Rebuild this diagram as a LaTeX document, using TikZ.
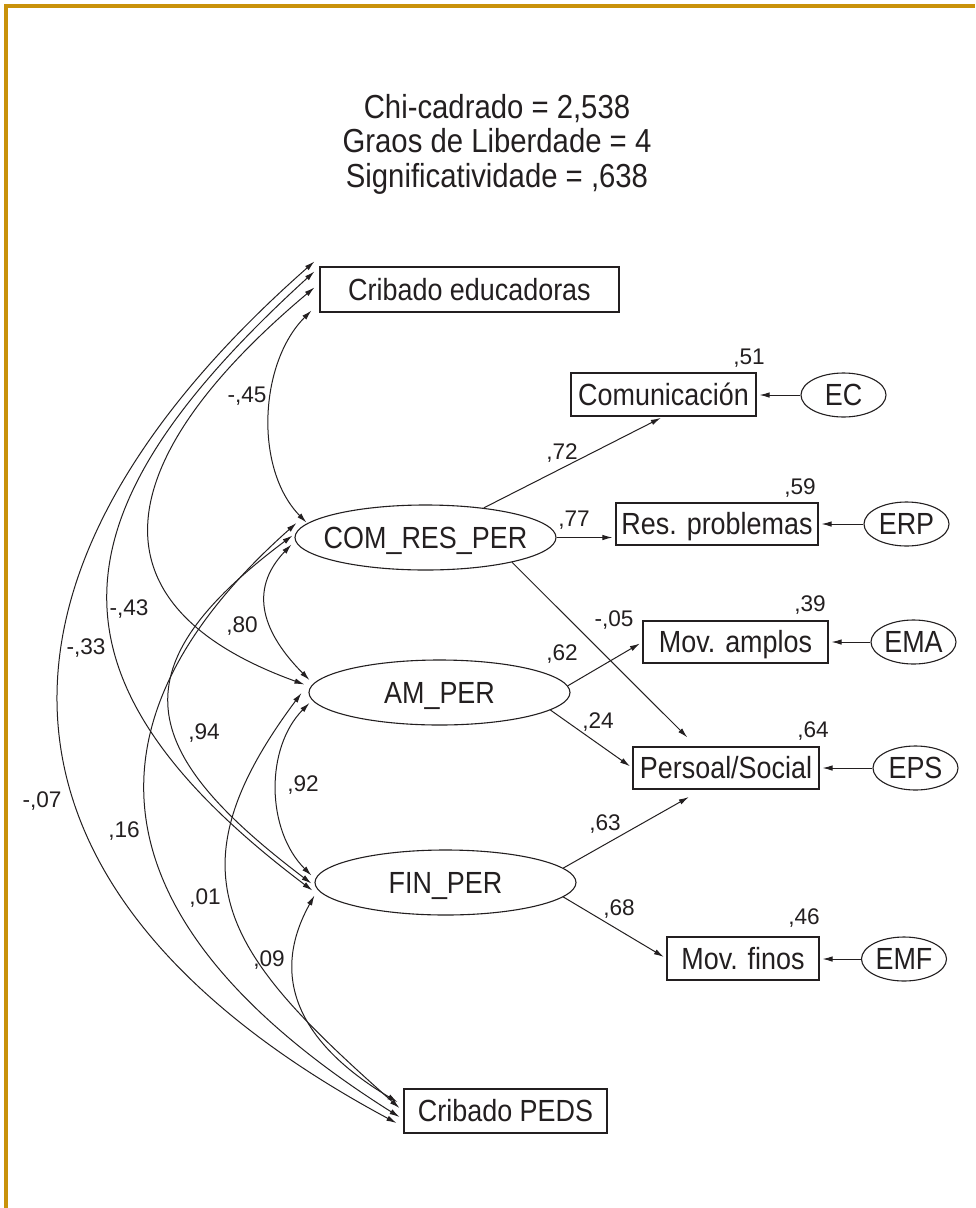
\documentclass[tikz,border=0pt]{standalone}
\usepackage{fontspec}
\setmainfont{Liberation Sans}[FakeStretch=0.88]
\newfontfamily\coeffamily{Liberation Sans}
\usetikzlibrary{arrows.meta,shapes.geometric,calc}
\definecolor{ink}{RGB}{35,31,32}
\definecolor{framegold}{RGB}{201,146,10}
\newcommand\nodetextsize{\fontsize{30.6}{32}\selectfont}
\newcommand\coefsize{\coeffamily\fontsize{22.6}{24}\selectfont}
\newcommand\headsize{\fontsize{33.3}{34.5}\selectfont}
\begin{document}
\begin{tikzpicture}[x=1pt,y=-1pt,
  obs/.style={draw=ink, line width=1.1pt, rectangle, inner sep=0pt, text=ink,
    font=\nodetextsize, text height=21pt, text depth=0pt},
  lat/.style={draw=ink, line width=1.1pt, ellipse, inner sep=0pt, text=ink,
    font=\nodetextsize, text height=21pt, text depth=0pt},
  err/.style={lat, minimum width=85pt, minimum height=44pt},
  coef/.style={text=ink, font=\coefsize, inner sep=0pt, text height=16pt, text depth=0pt},
  path/.style={draw=ink, line width=1pt, -{Latex[length=10pt,width=5.5pt]}, shorten >=3pt},
  cov/.style={draw=ink, line width=1pt, {Latex[length=10pt,width=5.5pt]}-{Latex[length=10pt,width=5.5pt]}}]
\useasboundingbox (0,0) rectangle (975,1208);
\fill[white] (0,0) rectangle (975,1208);
% frame on the top and left edges
\fill[framegold] (4.2,4.2) rectangle (975,7.6);
\fill[framegold] (4.2,4.2) rectangle (7.6,1208);

% fit statistics
\node[anchor=north, align=center, text=ink, font=\headsize, inner sep=0pt] (fit) at (497,94)
  {Chi-cadrado = 2,538\\Graos de Liberdade = 4\\Significatividade = ,638};

% observed variables
\node[obs, minimum width=299pt, minimum height=45pt] (ce) at (469.5,289.5) {Cribado educadoras};
\node[obs, minimum width=185pt, minimum height=43pt] (comm) at (663.5,394.5) {Comunicación};
\node[obs, minimum width=202pt, minimum height=42pt] (rp) at (717,524) {Res. problemas};
\node[obs, minimum width=185pt, minimum height=42pt] (ma) at (735.5,642) {Mov. amplos};
\node[obs, minimum width=186pt, minimum height=42pt] (ps) at (726,768) {Persoal/Social};
\node[obs, minimum width=152pt, minimum height=43pt] (mf) at (743,958.5) {Mov. finos};
\node[obs, minimum width=203pt, minimum height=44pt] (peds) at (505.5,1111) {Cribado PEDS};

% latent factors
\node[lat, minimum width=261pt, minimum height=65pt] (com) at (425.5,537.5) {\makebox[0pt]{COM\_RES\_PER}};
\node[lat, minimum width=261pt, minimum height=65pt] (am) at (439.5,692.5) {\makebox[0pt]{AM\_PER}};
\node[lat, minimum width=261pt, minimum height=65pt] (fin) at (445.5,882.5) {\makebox[0pt]{FIN\_PER}};

% error terms
\node[err] (ec) at (843.5,395) {\makebox[0pt]{EC}};
\node[err] (erp) at (906.5,524) {\makebox[0pt]{ERP}};
\node[err] (ema) at (913.5,642) {\makebox[0pt]{EMA}};
\node[err] (eps) at (915.5,768) {\makebox[0pt]{EPS}};
\node[err] (emf) at (904,959) {\makebox[0pt]{EMF}};

% ends of the correlation arcs
\coordinate (ceA) at ($(ce.north west)+(-5,-5)$);
\coordinate (ceB) at ($(ce.north west)+(-5,5)$);
\coordinate (ceC) at ($(ce.north west)+(-5,21)$);
\coordinate (ceD) at ($(ce.south west)+(-8,-2)$);
\coordinate (comA) at ($(com.west)+(12,-15)$);
\coordinate (comB) at ($(com.west)+(2,-14.5)$);
\coordinate (comC) at ($(com.west)+(-2,-2)$);
\coordinate (comD) at ($(com.west)+(-3,7)$);
\coordinate (amA) at ($(am.west)+(-4,-8)$);
\coordinate (amB) at ($(am.west)+(1,-12.5)$);
\coordinate (amC) at ($(am.west)+(-7,0.5)$);
\coordinate (amD) at ($(am.west)+(1,10.5)$);
\coordinate (finA) at ($(fin.west)+(-3,-7)$);
\coordinate (finB) at ($(fin.west)+(-3,1)$);
\coordinate (finC) at ($(fin.west)+(-2,8)$);
\coordinate (finD) at ($(fin.west)+(0,13)$);
\coordinate (pedsA) at ($(peds.west)+(-6,-9)$);
\coordinate (pedsB) at ($(peds.west)+(-4,-3)$);
\coordinate (pedsC) at ($(peds.west)+(-4,6)$);
\coordinate (pedsD) at ($(peds.west)+(-7,12)$);

% correlations
\draw[cov] (ceD) .. controls (259,363) and (254,469) .. (comA);
\draw[cov] (ceC) .. controls (115,455) and (79,603) .. (amA);
\draw[cov] (ceB) .. controls (56,507) and (25,674) .. (finC);
\draw[cov] (ceA) .. controls (-45,578) and (-32,893) .. (pedsD);
\draw[cov] (comD) .. controls (247,591) and (264,634) .. (amB);
\draw[cov] (comC) .. controls (117,667) and (135,750) .. (finB);
\draw[cov] (comB) .. controls (30,760) and (150,960) .. (pedsC);
\draw[cov] (amD) .. controls (265,748) and (266,830) .. (finA);
\draw[cov] (amC) .. controls (164,877) and (228,956) .. (pedsB);
\draw[cov] (finD) .. controls (260,993) and (322,1057) .. (pedsA);

% loadings
\coordinate (psTop) at ($(ps.north west)+(57,-7)$);
\coordinate (psBot) at ($(ps.south west)+(59,6)$);
\draw[path] (com) -- (comm.south);
\draw[path] (com.east) -- (com.east -| rp.west);
\draw[path] (com.-16) -- (psTop);
\draw[path] (am.3) -- (ma.west);
\draw[path] (am.-9) -- (ps.west);
\draw[path] (fin.7) -- (psBot);
\draw[path] (fin.-7) -- (mf.west);

% error paths
\draw[path] (ec.west) -- (ec.west -| comm.east);
\draw[path] (erp.west) -- (erp.west -| rp.east);
\draw[path] (ema.west) -- (ema.west -| ma.east);
\draw[path] (eps.west) -- (eps.west -| ps.east);
\draw[path] (emf.west) -- (emf.west -| mf.east);

% coefficients
\node[coef] (r2c) at (749,356) {,51};
\node[coef] (r2rp) at (800,486) {,59};
\node[coef] (r2ma) at (810,603) {,39};
\node[coef] (r2ps) at (813,729) {,64};
\node[coef] (r2mf) at (804,916) {,46};
\node[coef] (l1) at (562,451) {,72};
\node[coef] (l2) at (574,518) {,77};
\node[coef] (l3) at (614,618) {-,05};
\node[coef] (l4) at (562,652) {,62};
\node[coef] (l5) at (598,720) {,24};
\node[coef] (l6) at (605,822) {,63};
\node[coef] (l7) at (619,907) {,68};
\node[coef] (k1) at (247,394) {-,45};
\node[coef] (k2) at (129,607) {-,43};
\node[coef] (k3) at (242,624) {,80};
\node[coef] (k4) at (86,646) {-,33};
\node[coef] (k5) at (204,731) {,94};
\node[coef] (k6) at (303,783) {,92};
\node[coef] (k7) at (42,799) {-,07};
\node[coef] (k8) at (124,829) {,16};
\node[coef] (k9) at (205,896) {,01};
\node[coef] (k10) at (269,958) {,09};
\end{tikzpicture}
\end{document}
